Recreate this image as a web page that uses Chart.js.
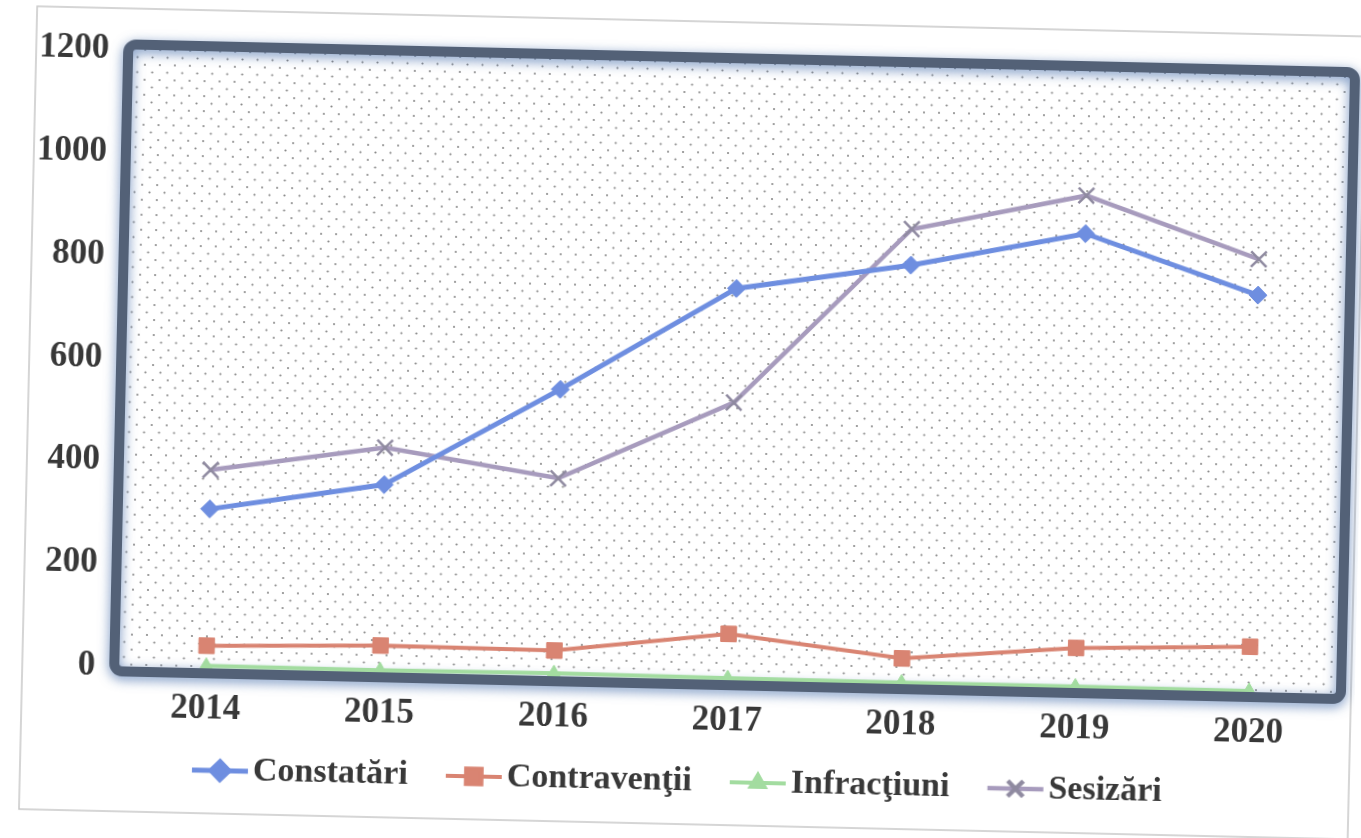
<!DOCTYPE html>
<html>
<head>
<meta charset="utf-8">
<script src="https://cdn.jsdelivr.net/npm/chart.js@4/dist/chart.umd.min.js"></script>
<style>
  html, body { margin: 0; padding: 0; background: #fff; overflow: hidden; }
  #wrap { position: absolute; left: 0; top: 0; width: 1361px; height: 838px; transform: rotate(1.3deg); transform-origin: 680px 419px; }
</style>
</head>
<body>
<div id="wrap"><canvas id="chart"></canvas></div>
<script>
// date
const ani = ['2014', '2015', '2016', '2017', '2018', '2019', '2020'];
const constatari = [310, 365, 558, 762, 815, 884, 772];
const contraventii = [44, 52, 50, 90, 50, 78, 88];
const infractiuni = [5, 4, 6, 4, 3, 3, 2];
const sesizari = [386, 437, 385, 540, 885, 958, 842];
const yTicks = [0, 200, 400, 600, 800, 1000, 1200];

const fontText = { family: '"Liberation Serif", "Times New Roman", serif', weight: 'bold', size: 35 };
const fontLegend = { family: '"Liberation Serif", "Times New Roman", serif', weight: 'bold', size: 34 };

// fundal punctat
function dotPattern(ctx) {
    const c = document.createElement('canvas');
    c.width = 15; c.height = 15;
    const p = c.getContext('2d');
    p.fillStyle = '#8a8a8a';
    p.beginPath(); p.arc(2, 2, 1.1, 0, Math.PI * 2); p.fill();
    p.beginPath(); p.arc(9.5, 9.5, 1.1, 0, Math.PI * 2); p.fill();
    return ctx.createPattern(c, 'repeat');
}

// mostra din legenda: linie + marker (partea stanga transparenta, ca sa se lipeasca de text)
function legendSample(s) {
    const c = document.createElement('canvas');
    c.width = 100; c.height = 30;
    const p = c.getContext('2d');
    p.strokeStyle = s.color;
    p.lineWidth = s.lw;
    p.beginPath(); p.moveTo(42, 15); p.lineTo(98, 15); p.stroke();
    p.fillStyle = s.color;
    p.strokeStyle = s.mark;
    Chart.helpers.drawPoint(p, { pointStyle: s.style, radius: s.r, borderWidth: s.bw }, 70, 15);
    return c;
}

const serii = [
    { label: 'Constatări', data: constatari, color: '#6e8ee0', mark: '#6e8ee0', style: 'rectRot', r: 9, lw: 5, bw: 1 },
    { label: 'Contravenţii', data: contraventii, color: '#d98472', mark: '#d98472', style: 'rect', r: 11, lw: 4, bw: 1 },
    { label: 'Infracţiuni', data: infractiuni, color: '#a3dca0', mark: '#a3dca0', style: 'triangle', r: 8, lw: 4, bw: 1 },
    { label: 'Sesizări', data: sesizari, color: '#a79bbd', mark: '#8f8aa0', style: 'crossRot', r: 11, lw: 4.5, bw: 2.5 }
];

const framePlugin = {
    id: 'frame',
    beforeDraw(chart) {
        const { ctx, chartArea: a } = chart;
        ctx.save();
        ctx.strokeStyle = '#c8c8c8';
        ctx.lineWidth = 1.5;
        ctx.strokeRect(28, 21, 1329, 803);
        ctx.fillStyle = dotPattern(ctx);
        ctx.fillRect(a.left, a.top, a.right - a.left, a.bottom - a.top);
        ctx.restore();
    },
    beforeDatasetsDraw(chart) {
        const { ctx, chartArea: a } = chart;
        ctx.save();
        ctx.shadowColor = 'rgba(70, 110, 170, 0.75)';
        ctx.shadowBlur = 12;
        ctx.shadowOffsetY = 3;
        ctx.strokeStyle = '#536177';
        ctx.lineWidth = 10;
        ctx.beginPath();
        ctx.roundRect(a.left - 5, a.top - 5, a.right - a.left + 10, a.bottom - a.top + 10, 8);
        ctx.stroke();
        ctx.restore();
    }
};

new Chart(document.getElementById('chart'), {
    type: 'line',
    data: {
        labels: ani,
        datasets: serii.map(s => ({
            label: s.label,
            data: s.data,
            borderColor: s.color,
            backgroundColor: s.color,
            borderWidth: s.lw,
            pointStyle: s.style,
            pointRadius: s.r,
            pointBorderWidth: s.bw,
            pointBorderColor: s.mark,
            tension: 0,
            sample: legendSample(s)
        }))
    },
    options: {
        responsive: true,
        maintainAspectRatio: false,
        animation: false,
        layout: { padding: { left: 0, top: 62, right: 19, bottom: 30 } },
        scales: {
            x: {
                offset: true,
                grid: { display: false, drawTicks: false },
                border: { display: false },
                ticks: { color: '#383838', font: fontText, padding: 20 },
                afterFit(scale) { scale.height = 75; }
            },
            y: {
                min: 0,
                max: 1200,
                grid: { display: false, drawTicks: false },
                border: { display: false },
                afterBuildTicks(scale) { scale.ticks = yTicks.map(v => ({ value: v })); },
                ticks: { color: '#383838', font: fontText, padding: 24, callback: v => String(v) },
                afterFit(scale) { scale.width = 125; }
            }
        },
        plugins: {
            legend: {
                position: 'bottom',
                labels: {
                    usePointStyle: true,
                    pointStyleWidth: 72,
                    padding: 10,
                    color: '#383838',
                    font: fontLegend,
                    generateLabels(chart) {
                        return chart.data.datasets.map((ds, i) => ({
                            text: ds.label,
                            pointStyle: ds.sample,
                            fillStyle: ds.borderColor,
                            strokeStyle: ds.borderColor,
                            lineWidth: 0,
                            fontColor: '#383838',
                            hidden: false,
                            datasetIndex: i
                        }));
                    }
                }
            },
            tooltip: { enabled: false }
        }
    },
    plugins: [framePlugin]
});
</script>
</body>
</html>
